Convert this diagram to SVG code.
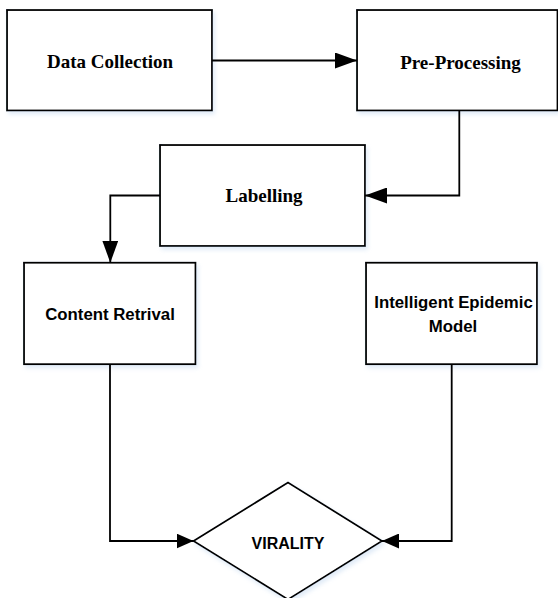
<svg xmlns="http://www.w3.org/2000/svg" width="558" height="598" viewBox="0 0 558 598">
  <defs>
    <filter id="sh" x="-10%" y="-10%" width="130%" height="130%">
      <feDropShadow dx="2" dy="3" stdDeviation="2" flood-color="#bcd3ee" flood-opacity="0.45"/>
    </filter>
    <marker id="aL" markerUnits="userSpaceOnUse" markerWidth="22" markerHeight="16" refX="22" refY="8" orient="auto">
      <path d="M0,0 L22,8 L0,16 Z" fill="#000"/>
    </marker>
    <marker id="aS" markerUnits="userSpaceOnUse" markerWidth="17" markerHeight="15" refX="17" refY="7.5" orient="auto">
      <path d="M0,0 L17,7.5 L0,15 Z" fill="#000"/>
    </marker>
  </defs>
  <style>
    .box { fill: #fff; stroke: #000; stroke-width: 1.8; filter: url(#sh); }
    .serif { font-family: "Liberation Serif", "Times New Roman", serif; font-weight: bold; font-size: 19px; fill: #000; text-anchor: middle; }
    .sans { font-family: "Liberation Sans", Arial, sans-serif; font-weight: bold; font-size: 16.8px; fill: #000; text-anchor: middle; }
    .conn { fill: none; stroke: #000; stroke-width: 1.8; }
  </style>
  <rect width="558" height="598" fill="#fff"/>

  <g id="data-collection">
    <rect class="box" x="7" y="10" width="205" height="100.5"/>
    <text class="serif" x="110" y="68">Data Collection</text>
  </g>
  <g id="pre-processing">
    <rect class="box" x="357" y="10" width="200.5" height="100.5"/>
    <text class="serif" x="460.5" y="68.5">Pre-Processing</text>
  </g>
  <g id="labelling">
    <rect class="box" x="160" y="145" width="205" height="101"/>
    <text class="serif" x="264" y="202">Labelling</text>
  </g>
  <g id="content-retrival">
    <rect class="box" x="24" y="262.7" width="171.5" height="101.5"/>
    <text class="sans" x="110" y="320">Content Retrival</text>
  </g>
  <g id="intelligent-epidemic-model">
    <rect class="box" x="366" y="262.7" width="171" height="101.5"/>
    <text class="sans" x="453.5" y="308.3">Intelligent Epidemic</text>
    <text class="sans" x="453" y="331.7">Model</text>
  </g>
  <g id="virality">
    <polygon class="box" points="193.5,541 288,482.5 382,541 288,599.5"/>
    <text class="sans" x="288" y="548.5" style="font-size:16px">VIRALITY</text>
  </g>

  <g id="connectors">
    <path class="conn" d="M212,60.5 H357" marker-end="url(#aL)"/>
    <path class="conn" d="M459.3,110.5 V195.5 H365" marker-end="url(#aL)"/>
    <path class="conn" d="M160,195.5 H110.3 V262.7" marker-end="url(#aL)"/>
    <path class="conn" d="M110,364.2 V541 H193.5" marker-end="url(#aS)"/>
    <path class="conn" d="M451.7,364.2 V541 H382" marker-end="url(#aS)"/>
  </g>
</svg>
